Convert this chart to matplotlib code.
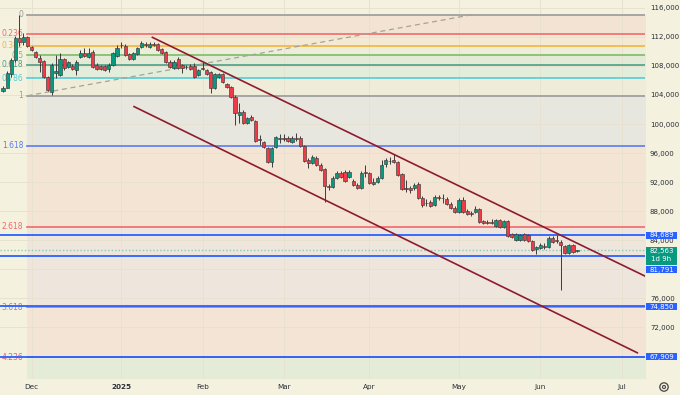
import matplotlib
matplotlib.use('Agg')
import matplotlib.pyplot as plt
from matplotlib.patches import Rectangle, Circle
from matplotlib.transforms import IdentityTransform
from matplotlib.ticker import FuncFormatter

# daily candles, late Nov 2024 -> mid Jun 2025
opens = [104500, 105000, 106900, 108800, 111900, 111300, 112000, 110600, 109900, 109100,
         108700, 106500, 104400, 107050, 106750, 108950, 107850, 108000, 107450, 109250,
         109800, 109250, 109900, 108150, 108000, 108000, 107600, 108150, 109400, 110900,
         110750, 109650, 108950, 109650, 110600, 111050, 110600, 111050, 111050, 110350,
         109950, 108550, 107700, 108950, 108150, 107850, 108000, 108000, 106750, 107700,
         107450, 107150, 104950, 106500, 106900, 105500, 105100, 103700, 101250, 101650,
         100150, 100950, 100400, 97900, 97500, 96700, 94750, 96800, 97900, 98050,
         98050, 97500, 98050, 98050, 96950, 95050, 94600, 95300, 94350, 93800,
         91450, 91300, 92550, 93250, 93350, 92700, 92150, 91600, 91150, 93350,
         93250, 91700, 92000, 92550, 94500, 94900, 95000, 94750, 93100, 91150,
         91150, 91150, 91700, 89800, 89100, 89250, 88800, 89900, 89800, 89650,
         88950, 88400, 87850, 89500, 88000, 87700, 87850, 88250, 86600, 86450,
         86450, 85900, 86750, 85800, 86600, 84800, 84000, 84000, 84800, 84650,
         83850, 82750, 82900, 83150, 83000, 84250, 83950, 83700, 83150, 82200,
         83300, 82450]
highs = [105200, 107300, 109100, 112200, 115050, 112500, 112150, 110750, 110050, 109500,
         108800, 106600, 108400, 109500, 109800, 109100, 108700, 108300, 108850, 110200,
         110500, 110500, 110200, 108400, 108150, 108150, 108400, 109950, 110900, 111300,
         111050, 109800, 109950, 110600, 111450, 111300, 111300, 111300, 111150, 110500,
         110050, 108800, 108800, 109250, 108300, 108150, 108300, 108400, 107600, 108550,
         107600, 107300, 107050, 107050, 107050, 105650, 105250, 104000, 102900, 101900,
         100950, 101250, 100550, 98450, 97650, 96800, 96800, 98350, 98600, 98600,
         98350, 98350, 98750, 98350, 97100, 95300, 95700, 95550, 94600, 93900,
         91700, 92800, 93500, 93500, 93650, 93650, 92400, 91850, 93500, 94350,
         93350, 92550, 92800, 95000, 95300, 95450, 95850, 94900, 93250, 92250,
         91450, 91850, 92000, 90050, 89650, 89500, 90200, 90200, 90350, 89900,
         89250, 88700, 89800, 89900, 88250, 88000, 88700, 88400, 86750, 86750,
         86900, 86900, 86900, 86750, 86750, 84950, 84950, 84800, 84950, 84800,
         84000, 83150, 83550, 83550, 84550, 84550, 84650, 84000, 83300, 83450,
         83450, 82600]
lows = [104400, 104900, 106500, 108500, 110800, 110900, 110600, 110050, 109100, 107150,
        106350, 104550, 104000, 106350, 106600, 107450, 107700, 107450, 106750, 109100,
        109250, 109100, 107700, 107450, 107450, 107300, 107150, 108000, 109250, 110500,
        109350, 108800, 108800, 109500, 110500, 110600, 110500, 110750, 110050, 109650,
        108400, 107700, 107600, 107600, 107050, 107600, 107450, 106350, 106600, 107450,
        106750, 104250, 104800, 106350, 105650, 104950, 103600, 99850, 100150, 100000,
        100000, 100400, 97500, 97100, 96700, 94600, 94050, 96700, 97350, 97650,
        97500, 97350, 97650, 96800, 94750, 93900, 94450, 94200, 93500, 89250,
        90900, 91150, 92400, 92550, 92000, 92550, 91450, 91000, 91000, 92700,
        91700, 91550, 91850, 92400, 94050, 94500, 94600, 92800, 90900, 90600,
        90500, 90900, 89650, 88550, 88700, 88550, 88700, 89500, 89100, 88800,
        88250, 87700, 87700, 87700, 87450, 87300, 87700, 86350, 86200, 86200,
        86200, 85750, 85650, 85650, 84400, 84250, 83850, 83850, 83850, 83700,
        82450, 82050, 82750, 82750, 82900, 83550, 83550, 77050, 82050, 82050,
        82200, 82300]
closes = [105000, 107000, 108800, 111900, 111300, 112000, 110750, 110200, 109250, 108550,
          106500, 104700, 108150, 107300, 108950, 107700, 108550, 107600, 108550, 109800,
          109400, 109800, 107850, 107600, 107600, 107450, 108150, 109800, 110500, 110850,
          109500, 108950, 109800, 110500, 111150, 110900, 111050, 110950, 110200, 109800,
          108550, 107850, 108550, 107700, 107700, 107800, 107600, 106500, 107450, 107650,
          106900, 104950, 106900, 106900, 105800, 105100, 103700, 101500, 101650, 100150,
          100800, 100550, 97650, 97800, 96800, 94750, 96700, 98200, 98050, 98000,
          97650, 98050, 98000, 96950, 94900, 94600, 95450, 94350, 93650, 91450,
          91300, 92550, 93250, 92700, 92150, 93350, 91600, 91150, 93250, 93300,
          91850, 92000, 92550, 94350, 95000, 94850, 94750, 92950, 91000, 91100,
          90900, 91600, 89800, 88800, 89050, 88700, 89900, 89800, 89750, 88950,
          88400, 87850, 89500, 87850, 87550, 87650, 88250, 86450, 86350, 86400,
          86400, 86750, 85800, 86600, 84550, 84400, 84800, 84650, 84000, 83850,
          82600, 83000, 83300, 83100, 84250, 83700, 83900, 83300, 82200, 83300,
          82350, 82563]

month_pos = [7, 29, 49, 69, 90, 112, 132, 152]
month_lbl = ['Dec', '2025', 'Feb', 'Mar', 'Apr', 'May', 'Jun', 'Jul']

# fib retracement drawn from 103,900 (1) to 115,050 (0)
fib_high = 115050
fib_low = 103900
fib_start, fib_end = 6, 115
fib_levels = [0, 0.236, 0.382, 0.5, 0.618, 0.786, 1, 1.618, 2.618, 3.618, 4.236, 4.618]
fib_lines = ['#9a9a9a', '#f06a6e', '#f4b23e', '#7dbb6a', '#4e9f87', '#55ccd5',
             '#9a9a9a', '#5b7cf0', '#f06a6e', '#b66fd0', '#e95878', '#7dbb6a']
fib_fills = ['#f3e3d2', '#f4ead3', '#edeed9', '#e3ebd6', '#e2eddb', '#efedda',
             '#e7e6df', '#f3e4d3', '#eee5dd', '#f3e4d5', '#e4ebd7']

# descending channel
chan_upper = [(36.5, 112000), (160, 78400)]
chan_lower = [(32, 102450), (156, 68400)]

# horizontal levels with price tags
hlines = [84689, 81791, 74850, 67909]
last_price = 82563
countdown = '1d 9h'

BG = '#f4f1de'
UP = '#089981'
DN = '#ef3b48'
BLUE = '#2962ff'
TXT = '#2a2e39'

W, H = 680, 395
fig = plt.figure(figsize=(W / 100, H / 100), dpi=100, facecolor=BG)
ax = fig.add_axes([0, 17 / H, 645 / W, 378 / H])
ax.set_facecolor(BG)
for s in ax.spines.values():
    s.set_visible(False)
ax.set_xlim(-0.75, 157.7)
ax.set_ylim(64975, 117100)

# grid
for m in month_pos:
    ax.axvline(m, color='#e6e2cf', lw=0.7, zorder=0.6)
yt = list(range(68000, 117000, 4000))
for v in yt:
    ax.axhline(v, color='#e6e2cf', lw=0.7, zorder=0.6)

# fib zones
prices = [fib_high - l * (fib_high - fib_low) for l in fib_levels]
for i in range(len(prices) - 1):
    ax.fill_between([fib_start, 170], prices[i + 1], prices[i], color=fib_fills[i], lw=0, zorder=0.5)
for l, p, c in zip(fib_levels, prices, fib_lines):
    ax.plot([fib_start, 170], [p, p], color=c, lw=1.2, zorder=1)
    ax.annotate('%g' % l, xy=(fib_start, p), xytext=(-3, 0), textcoords='offset points',
                ha='right', va='center', fontsize=5.5, color=c, zorder=1.5)
ax.plot([fib_start, fib_end], [fib_low, fib_high], color='#a5a39a', lw=0.9, ls=(0, (4, 3)), zorder=1.2)

# blue lines + last price line
for v in hlines:
    ax.axhline(v, color=BLUE, lw=1.3, zorder=1.8)
ax.axhline(last_price, color='#8cc9b8', lw=1, ls=(0, (1, 1.5)), zorder=1.7)

# candles
for i, (o, h, l, c) in enumerate(zip(opens, highs, lows, closes)):
    col = UP if c >= o else DN
    ax.vlines(i, l, h, color='#3b3b3b', lw=0.7, zorder=2)
    ax.bar(i, max(abs(c - o), 80), bottom=min(o, c), width=0.78, color=col,
           edgecolor='#3b3b3b', linewidth=0.45, zorder=2.1)

# channel
for (x0, y0), (x1, y1) in [chan_upper, chan_lower]:
    ax.plot([x0, x1], [y0, y1], color='#8e1b2e', lw=1.2, zorder=3, solid_capstyle='butt')

# axes labels
ax.yaxis.tick_right()
ax.set_yticks(yt)
ax.yaxis.set_major_formatter(FuncFormatter(lambda v, p: '{:,.0f}'.format(v)))
ax.tick_params(axis='y', length=0, pad=3.6, labelsize=5, labelcolor=TXT)
ax.set_xticks(month_pos)
ax.set_xticklabels(month_lbl)
ax.tick_params(axis='x', length=0, pad=4, labelsize=5.2, labelcolor=TXT)
for t in ax.get_xticklabels():
    if t.get_text() == '2025':
        t.set_fontweight('bold')

# price tags on the right scale (stacked like TradingView)
tags = [(v, '{:,}'.format(v), BLUE, 7) for v in hlines]
tags.append((last_price, '{:,}'.format(last_price), UP, 18))
tags.sort(key=lambda t: -t[0])
prev_bottom = -100
for v, s, col, hh in tags:
    yc = H - ax.transData.transform((0, v))[1]
    top = max(yc - 3.5, prev_bottom + 1)
    fig.add_artist(Rectangle((646, H - top - hh), 31, hh, transform=IdentityTransform(),
                             facecolor=col, edgecolor='none', zorder=5))
    fig.text(661.5 / W, (H - top - 3.7) / H, s, ha='center', va='center',
             fontsize=5, color='white', zorder=6)
    if hh > 7:
        fig.text(661.5 / W, (H - top - 12.5) / H, countdown, ha='center', va='center',
                 fontsize=5, color='white', zorder=6)
    prev_bottom = top + hh

# settings icon
fig.add_artist(Circle((664, H - 387), 4.2, transform=IdentityTransform(), fill=False,
                      edgecolor='#444', lw=0.9, zorder=5))
fig.add_artist(Circle((664, H - 387), 1.5, transform=IdentityTransform(), fill=False,
                      edgecolor='#444', lw=0.8, zorder=5))

fig.savefig('out.png', dpi=100, facecolor=BG)
